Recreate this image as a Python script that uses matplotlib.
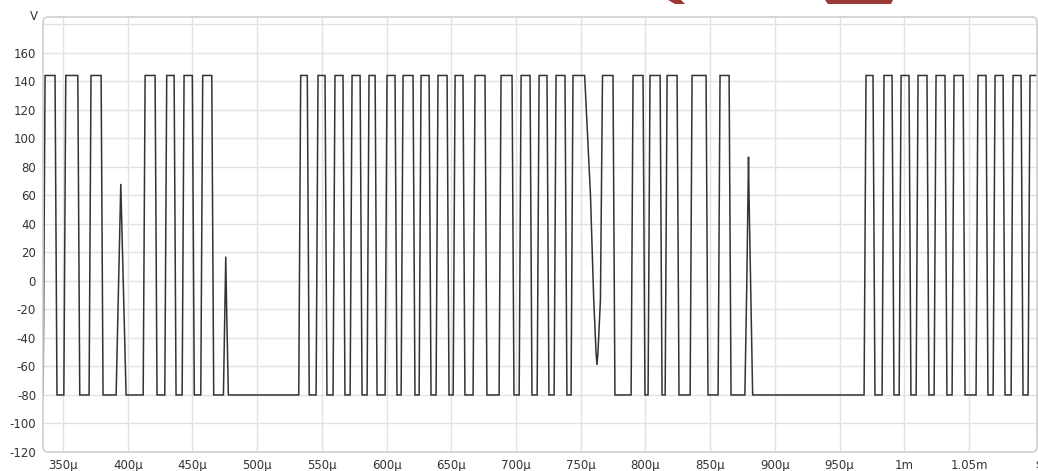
import matplotlib
matplotlib.use("Agg")
import matplotlib.pyplot as plt
from matplotlib.patches import FancyBboxPatch, Polygon
import numpy as np

# Pulse train: start / end of each high plateau (microseconds)
high_start = [336.1, 352.1, 371.6, 413.4, 430.1, 443.5, 457.9, 533.6, 547.0,
              560.1, 573.3, 586.4, 600.3, 612.7, 626.6, 639.7, 652.9, 668.3,
              688.4, 703.9, 717.8, 730.9, 744.0, 790.4, 803.5, 816.7, 836.0,
              857.6, 970.4, 984.3, 997.5, 1010.6, 1024.5, 1038.4, 1056.9,
              1070.1, 1084.0, 1097.1]
high_end = [343.8, 361.4, 379.4, 421.1, 435.8, 449.9, 464.9, 538.7, 552.4,
            566.3, 579.5, 591.1, 606.5, 620.4, 632.8, 646.7, 659.0, 676.0,
            696.9, 710.8, 723.9, 737.8, 774.9, 798.1, 811.3, 824.4, 846.8,
            864.6, 975.8, 990.5, 1003.6, 1017.5, 1031.4, 1045.4, 1063.1,
            1076.3, 1090.2, 1110.0]
v_high = 144.0
v_low = -80.0
edge_time = 1.5  # rise / fall duration (us)

# Isolated spikes during low stretches and the dip during a high stretch
spike1_t = [391.0, 392.9, 394.1, 394.6, 395.1, 396.5, 398.7]
spike1_v = [-80, 0, 50, 68, 50, 0, -80]
spike2_t = [473.9, 475.0, 475.7, 476.4, 477.7]
spike2_v = [-80, -20, 17, -20, -80]
dip_t = [753.0, 757.5, 760.0, 761.8, 762.5, 763.3, 765.2, 766.8]
dip_v = [144, 60, -13, -50, -59, -50, -13, 144]
spike3_t = [876.8, 878.3, 879.2, 879.6, 880.0, 881.2, 882.8]
spike3_v = [-80, 0, 60, 87, 60, 0, -80]

x_ticks = [350, 400, 450, 500, 550, 600, 650, 700, 750, 800, 850, 900, 950,
           1000, 1050]
x_labels = ["350µ", "400µ", "450µ", "500µ", "550µ", "600µ", "650µ", "700µ",
            "750µ", "800µ", "850µ", "900µ", "950µ", "1m", "1.05m"]
y_ticks = [-120, -100, -80, -60, -40, -20, 0, 20, 40, 60, 80, 100, 120, 140,
           160]

x_min, x_max = 334.5, 1102.5
y_min, y_max = -120, 185

# Assemble the waveform vertices
pts = [(x_min, v_low)]
for s, e in zip(high_start, high_end):
    pts += [(s - edge_time, v_low), (s, v_high), (e, v_high),
            (e + edge_time, v_low)]
for ts, vs in ((spike1_t, spike1_v), (spike2_t, spike2_v),
               (dip_t, dip_v), (spike3_t, spike3_v)):
    pts += list(zip(ts, vs))
pts.sort(key=lambda p: p[0])
t_arr = np.array([p[0] for p in pts])
v_arr = np.array([p[1] for p in pts])

W, H = 1038, 471
fig = plt.figure(figsize=(W / 100, H / 100), dpi=100)
ax = fig.add_axes([43 / W, 19 / H, (1037 - 43) / W, (452 - 17) / H])

ax.plot(t_arr, v_arr, color="#333333", lw=1.1, solid_joinstyle="miter",
        zorder=3)

ax.set_xlim(x_min, x_max)
ax.set_ylim(y_min, y_max)
ax.set_xticks(x_ticks)
ax.set_xticklabels(x_labels)
ax.set_yticks(y_ticks + [180])
ax.set_yticklabels([str(v) for v in y_ticks] + [""])
ax.grid(True, color="#e2e2e2", lw=1.0)
ax.set_axisbelow(True)
ax.tick_params(length=0, labelsize=8.5, labelcolor="#333333")
ax.tick_params(axis="x", pad=5)
ax.tick_params(axis="y", pad=5)
for sp in ax.spines.values():
    sp.set_visible(False)

# Rounded frame around the plot area
frame = FancyBboxPatch((43 / 100, (H - 452) / 100), (1037 - 43) / 100,
                       (452 - 17) / 100,
                       boxstyle="round,pad=0,rounding_size=0.05",
                       transform=fig.dpi_scale_trans, fill=False,
                       edgecolor="#d0d0d0", lw=1.2, zorder=5)
fig.add_artist(frame)

# Unit labels
fig.text(38 / W, 1 - 17 / H, "V", ha="right", va="center", fontsize=8.5,
         color="#333333")
fig.text(1038 / W, 1 - 465 / H, "s", ha="center", va="center", fontsize=8.5,
         color="#333333")


def top_shape(points):
    # points given as (x, y) pixels measured from the top-left corner
    return Polygon([(x, H - y) for x, y in points], closed=True,
                   transform=None, color="#9b3a35", lw=0)


# Red banner shapes along the top edge
fig.add_artist(top_shape([(668, 0), (681, 0), (685, 4), (675, 4)]))
fig.add_artist(top_shape([(825, 0), (893, 0), (891, 4), (828, 4)]))

fig.savefig("out.png", dpi=100)
